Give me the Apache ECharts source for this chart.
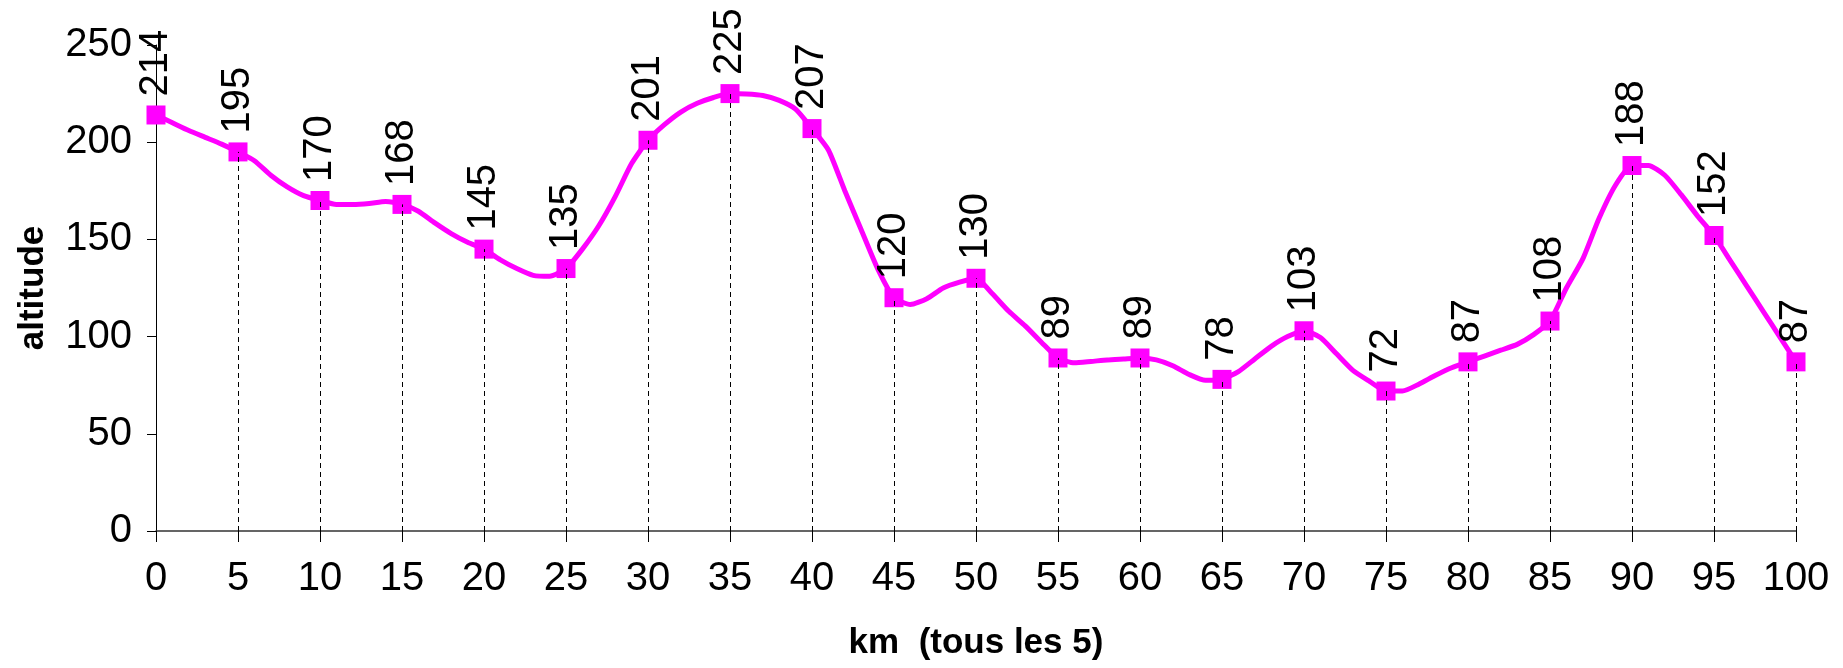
<!DOCTYPE html>
<html>
<head>
<meta charset="utf-8">
<script src="https://cdn.jsdelivr.net/npm/echarts@6/dist/echarts.min.js"></script>
<style>
html,body{margin:0;padding:0;background:#fff;}
#chart{width:1843px;height:668px;}
</style>
</head>
<body>
<div id="chart"></div>
<script>
// Profile sampled every km (smoothed line)
const profileKm = [];
for (let k = 0; k <= 100; k++) profileKm.push(k);
const profileAlt = [
  214,210,206,202.5,199,195,190.5,183,177,172.5,
  170,168,168,168.5,169.5,168,164.5,158.5,153,148.5,
  145,139.5,135,131.5,131,135,145,157,172,189,
  201,209,215.5,220,223,225,224.8,224,221.5,217,
  207,196,175,155,135,120,116.5,119.5,125,128,
  130,122,113,105.5,97,89,86.5,87.2,88,88.5,
  89,88,85,80.5,77.5,78,82,88.5,95,100,
  103,99.5,91,82.5,77,72,72,75.5,80,84,
  87,90,93,96,101,108,125,140,161,178,
  188,188,183,173,162,152,139,126,113,100,
  87
];
// Marked points every 5 km
const markerKm = [0,5,10,15,20,25,30,35,40,45,50,55,60,65,70,75,80,85,90,95,100];
const markerAlt = [214,195,170,168,145,135,201,225,207,120,130,89,89,78,103,72,87,108,188,152,87];

const FONT = 'Liberation Sans, Arial, sans-serif';
const chart = echarts.init(document.getElementById('chart'));
chart.setOption({
  animation: false,
  backgroundColor: '#fff',
  grid: { left: 156, right: 47, top: 45, bottom: 137 },
  xAxis: {
    type: 'value', min: 0, max: 100, interval: 5,
    name: 'km  (tous les 5)', nameLocation: 'middle', nameGap: 95,
    nameTextStyle: { fontFamily: FONT, fontSize: 35, fontWeight: 'bold', color: '#000' },
    axisLine: { lineStyle: { color: '#333', width: 1.5 } },
    axisTick: { length: 11, lineStyle: { color: '#000', width: 1 } },
    axisLabel: { margin: 28, fontFamily: FONT, fontSize: 40, color: '#000' },
    splitLine: { show: false }
  },
  yAxis: {
    type: 'value', min: 0, max: 250, interval: 50,
    name: 'altitude', nameLocation: 'middle', nameGap: 105, nameRotate: 90,
    nameTextStyle: { fontFamily: FONT, fontSize: 35, fontWeight: 'bold', color: '#000' },
    axisLine: { show: true, lineStyle: { color: '#000', width: 1 } },
    axisTick: { show: true, length: 9, lineStyle: { color: '#000', width: 1 } },
    axisLabel: { margin: 24, fontFamily: FONT, fontSize: 40, color: '#000' },
    splitLine: { show: false }
  },
  series: [
    {
      type: 'line',
      data: profileKm.map((k, i) => [k, profileAlt[i]]),
      showSymbol: false,
      smooth: 0.2,
      lineStyle: { color: '#FF00FF', width: 5 },
      z: 2
    },
    {
      type: 'line',
      data: markerKm.map((k, i) => [k, markerAlt[i]]),
      lineStyle: { width: 0, opacity: 0 },
      symbol: 'rect',
      symbolSize: 19,
      itemStyle: { color: '#FF00FF' },
      label: {
        show: true, position: 'top', distance: 9, rotate: 90,
        align: 'left', verticalAlign: 'middle',
        fontFamily: FONT, fontSize: 40, color: '#000'
      },
      markLine: {
        silent: true,
        symbol: ['none', 'none'],
        label: { show: false },
        lineStyle: { type: [5, 4], color: '#000', width: 1 },
        data: markerKm.filter(k => k > 0).map(k => {
          const v = markerAlt[markerKm.indexOf(k)];
          return [{ coord: [k, 0] }, { coord: [k, v] }];
        })
      },
      z: 3
    }
  ]
});
</script>
</body>
</html>
